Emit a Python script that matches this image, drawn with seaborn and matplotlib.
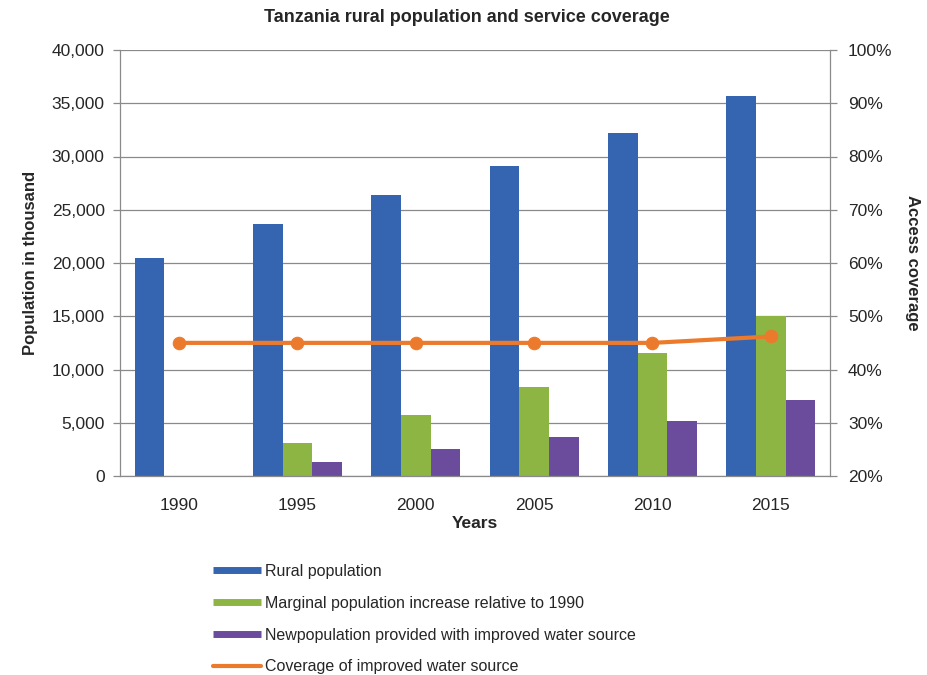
import numpy as np
import pandas as pd
import matplotlib
matplotlib.use("Agg")
import matplotlib.pyplot as plt
import matplotlib.ticker as mticker
from matplotlib.lines import Line2D
import seaborn as sns

years = ["1990", "1995", "2000", "2005", "2010", "2015"]
rural_population = [20500, 23700, 26350, 29100, 32250, 35650]
marginal_increase = [0, 3100, 5700, 8400, 11550, 15050]
new_population_water = [0, 1350, 2500, 3700, 5200, 7150]
coverage = [45, 45, 45, 45, 45, 46.2]

series_names = ["Rural population",
                "Marginal population increase relative to 1990",
                "Newpopulation provided with improved water source"]
line_name = "Coverage of improved water source"

colors = ["#3565b0", "#8db543", "#6b4c9c"]
line_color = "#ec7a2c"
txt = "#262626"

sns.set_theme(style="white")
plt.rcParams['font.family'] = ['Liberation Sans', 'DejaVu Sans']

df = pd.DataFrame({
    "Year": years * 3,
    "Value": rural_population + marginal_increase + new_population_water,
    "Series": [series_names[0]] * 6 + [series_names[1]] * 6 + [series_names[2]] * 6,
})

fig = plt.figure(figsize=(9.27, 6.75), dpi=100)
ax = fig.add_axes([120 / 927, 1 - 476 / 675, (830 - 120) / 927, (476 - 50) / 675])

sns.barplot(data=df, x="Year", y="Value", hue="Series", palette=colors,
            width=0.75, ax=ax, legend=False, saturation=1, edgecolor="none")
ax.set_ylim(0, 40000)
ax.set_xlim(-0.5, 5.5)
ax.yaxis.set_major_locator(mticker.MultipleLocator(5000))
ax.yaxis.set_major_formatter(mticker.FuncFormatter(lambda v, p: f"{int(v):,}"))
ax.grid(axis="y", color="#8a8a8a", linewidth=0.9)
ax.set_axisbelow(True)
for s in ["left", "bottom", "right"]:
    ax.spines[s].set_color("#8a8a8a")
    ax.spines[s].set_linewidth(0.9)
ax.spines["top"].set_visible(False)
ax.tick_params(axis="y", which="both", left=True, length=5, width=0.9, color="#8a8a8a",
               labelsize=12.5, labelcolor=txt, pad=6)
ax.tick_params(axis="x", bottom=False, labelsize=12.5, labelcolor=txt, pad=10)
ax.set_xlabel("Years", fontsize=12.5, fontweight="bold", color=txt, labelpad=2)
ax.set_ylabel("Population in thousand", fontsize=12, fontweight="bold", color=txt, labelpad=10)

ax2 = ax.twinx()
sns.lineplot(x=np.arange(len(years)), y=coverage, ax=ax2, color=line_color,
             linewidth=3, marker="o", markersize=9, markeredgecolor=line_color)
ax2.set_ylim(20, 100)
ax2.set_xlim(-0.5, 5.5)
ax2.yaxis.set_major_locator(mticker.MultipleLocator(10))
ax2.yaxis.set_major_formatter(mticker.FuncFormatter(lambda v, p: f"{int(v)}%"))
ax2.tick_params(axis="y", right=True, length=5, width=0.9, color="#8a8a8a",
                labelsize=12.5, labelcolor=txt, pad=8)
for s in ["left", "bottom", "right", "top"]:
    ax2.spines[s].set_visible(False)
ax2.set_ylabel("Access coverage", fontsize=12, fontweight="bold", color=txt,
               rotation=270, labelpad=20)
ax2.grid(False)

fig.text(467 / 927, 1 - 17 / 675, "Tanzania rural population and service coverage",
         ha="center", va="center", fontsize=13, fontweight="bold", color=txt)

handles = [Line2D([], [], color=c, linewidth=5, solid_capstyle="butt") for c in colors]
handles.append(Line2D([], [], color=line_color, linewidth=3))
fig.legend(handles, series_names + [line_name], loc="upper left",
           bbox_to_anchor=(213 / 927, 1 - 564 / 675), frameon=False,
           borderaxespad=0, borderpad=0, handlelength=3.0, handletextpad=0.25,
           labelspacing=1.05, fontsize=11.5, labelcolor=txt)

fig.savefig("out.png", dpi=100, facecolor="white")
